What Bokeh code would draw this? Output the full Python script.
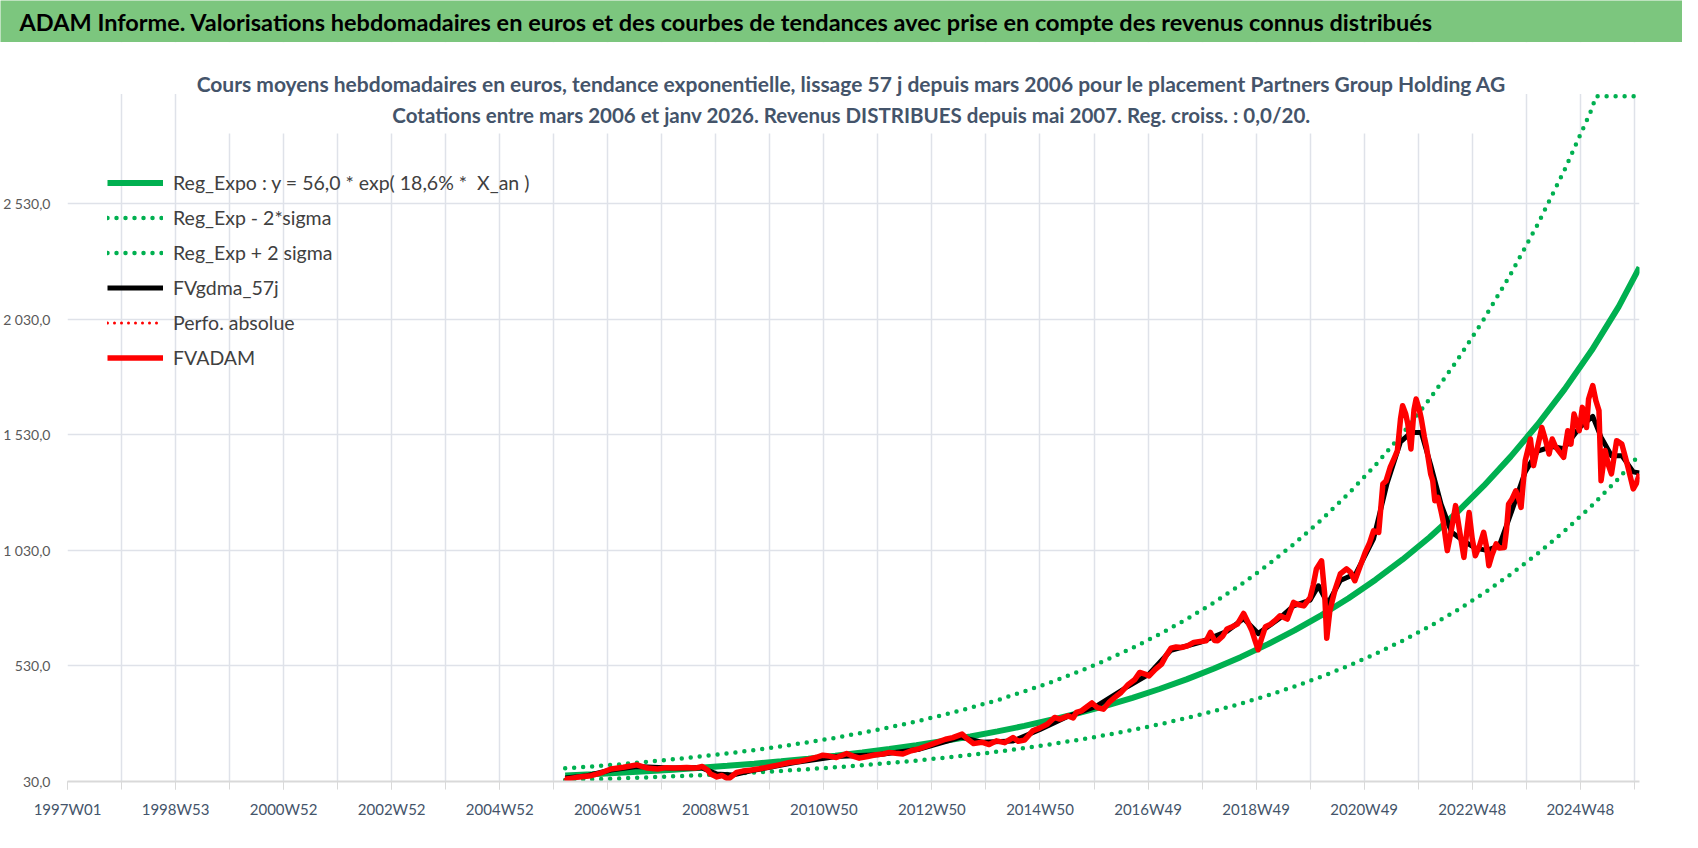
from bokeh.plotting import figure
from bokeh.layouts import column
from bokeh.models import (ColumnDataSource, FixedTicker, Label, BoxAnnotation,
                          Legend, LegendItem)
from bokeh.embed import file_html
from bokeh.resources import INLINE

# ---------------- data (week index 0 = 1997W01, consecutive ISO weeks) -------------
x_tick_pos = [0, 104, 208, 312, 416, 520, 624, 728, 832, 936, 1040, 1144, 1248, 1352, 1456]
x_tick_labels = ["1997W01", "1998W53", "2000W52", "2002W52", "2004W52", "2006W51",
                 "2008W51", "2010W50", "2012W50", "2014W50", "2016W49", "2018W49",
                 "2020W49", "2022W48", "2024W48"]
year_grid_pos = [0, 52, 104, 156, 208, 260, 312, 364, 416, 468, 520, 572, 624, 676, 728,
                 780, 832, 884, 936, 988, 1040, 1092, 1144, 1196, 1248, 1300, 1352,
                 1404, 1456, 1508]
y_tick_pos = [30, 530, 1030, 1530, 2030, 2530]
y_tick_labels = ["30,0", "530,0", "1 030,0", "1 530,0", "2 030,0", "2 530,0"]

# FVADAM (weekly valuation)
fv_week = [479, 490, 504, 515, 523, 535, 548, 558, 568, 576, 584, 596, 604, 611, 616, 619,
           625, 630, 636, 644, 650, 657, 666, 676, 686, 695, 705, 714, 721, 727, 733, 740,
           750, 756, 762, 770, 778, 785, 791, 797, 804, 812, 820, 828, 836, 845, 852, 861,
           866, 872, 880, 887, 894, 902, 910, 915, 921, 929, 936, 943, 950, 955, 963, 968,
           971, 976, 986, 991, 997, 1003, 1008, 1014, 1021, 1027, 1032, 1037, 1041, 1047,
           1053, 1058, 1062, 1067, 1072, 1078, 1084, 1090, 1096, 1100, 1104, 1107, 1112,
           1116, 1121, 1126, 1132, 1136, 1140, 1143, 1146, 1149, 1153, 1158, 1163, 1167,
           1174, 1180,
           1185, 1190, 1196, 1199, 1202, 1207, 1210, 1212, 1215, 1220, 1225, 1231, 1235,
           1239, 1244, 1249, 1253, 1257, 1262, 1266, 1269, 1273, 1277, 1280, 1283, 1285,
           1288, 1290, 1293, 1296, 1298, 1301, 1303, 1306, 1308, 1312, 1314, 1316, 1319,
           1322, 1324, 1328, 1332, 1336, 1340, 1344, 1347, 1349, 1352, 1355, 1359, 1363,
           1366, 1368, 1371, 1375, 1378, 1383, 1385, 1387, 1390, 1394, 1397, 1399, 1403,
           1408, 1411, 1415, 1419, 1423, 1426, 1429, 1432, 1435, 1440, 1444, 1447, 1450,
           1455, 1458, 1462, 1464, 1468, 1471, 1474, 1476, 1480, 1483, 1486, 1491, 1496,
           1499, 1502, 1507, 1510, 1513]
fv_value = [40, 48, 55, 70, 84, 92, 102, 88, 84, 90, 88, 91, 88, 95, 80, 62,
            50, 56, 40, 69, 75, 79, 85, 94, 103, 112, 118, 127, 135, 144, 140, 134,
            151, 140, 131, 138, 146, 149, 156, 152, 149, 163, 172, 185, 198, 213, 220, 235,
            215, 194, 200, 190, 206, 198, 220, 204, 209, 249, 262, 278, 307, 300, 314, 305,
            329, 336, 370, 350, 343, 375, 394, 415, 450, 470, 502, 495, 487, 515,
            538, 580, 607, 612, 610, 617, 632, 636, 639, 675, 640, 639, 660,
            690, 700, 711, 757, 720, 682, 640, 600, 645, 700, 711, 730, 747,
            733, 805,
            795, 790, 826, 880, 950, 985, 841, 650, 770, 860, 928, 950, 935,
            899, 960, 1021, 1060, 1115, 1108, 1317, 1330, 1389, 1430, 1462, 1600, 1656,
            1620, 1577, 1469, 1640, 1685, 1640, 1599, 1520, 1476, 1361, 1332, 1245, 1259,
            1200, 1158, 1029, 1120, 1224, 1110, 1000, 1120, 1194, 1080, 1007, 1050, 1108,
            1040, 964, 1010, 1058, 1040, 1043, 1120, 1231, 1250, 1288, 1250, 1216, 1418,
            1512, 1397, 1480, 1562, 1500, 1447, 1512, 1480, 1462, 1433, 1548, 1490, 1620,
            1548, 1649, 1562, 1685, 1743, 1678, 1635, 1332, 1462, 1400, 1361, 1505, 1490,
            1440, 1389, 1296, 1320, 1361]

# FVgdma_57j (smoothed curve)
gdma_week = [479, 500, 523, 548, 580, 610, 625, 640, 660, 700, 740, 780, 820, 860, 880,
             910, 936, 963, 990, 1020, 1041, 1062, 1090, 1116, 1132, 1146, 1167, 1180,
             1196, 1204, 1213, 1225, 1240, 1257, 1270, 1283, 1293, 1303, 1312, 1322, 1332,
             1344, 1355, 1366, 1378, 1390, 1403, 1415, 1429, 1440, 1455, 1468, 1476, 1486,
             1496, 1507, 1513]
gdma_value = [45, 55, 80, 95, 88, 90, 62, 58, 78, 112, 138, 146, 170, 222, 200,
              205, 255, 312, 355, 440, 495, 598, 632, 680, 735, 670, 738, 790,
              815, 877, 800, 900, 930, 1080, 1320, 1500, 1540, 1540, 1400, 1230, 1110,
              1070, 1040, 1030, 1050, 1200, 1370, 1460, 1480, 1470, 1560, 1610, 1520, 1440,
              1440, 1370, 1365]

# Reg_Expo trend and +/- 2 sigma bands (read every half year)
reg_week = [479, 505, 531, 557, 583, 609, 635, 661, 687, 713, 739, 765, 791, 817, 843,
            869, 895, 921, 947, 973, 999, 1025, 1051, 1077, 1103, 1129, 1155, 1181, 1207,
            1233, 1259, 1285, 1311, 1337, 1363, 1389, 1415, 1441, 1467, 1493, 1513]
reg_value = [56, 61.4, 67.4, 73.9, 81.1, 89.0, 97.7, 107.2, 117.5, 128.9, 141.5, 155.2,
             170.3, 186.8, 205.0, 224.9, 246.7, 270.7, 297.0, 325.8, 357.5, 392.2, 430.2,
             472.0, 517.9, 568.2, 623.4, 683.9, 750.4, 823.2, 903.2, 990.9, 1087, 1193,
             1309, 1436, 1575, 1728, 1896, 2085, 2255]
reg_low = [36, 39.6, 43.5, 47.7, 52.3, 57.4, 63.0, 69.2, 75.8, 83.2, 91.3, 100.1, 109.9,
           120.5, 132.3, 145.1, 159.2, 174.6, 191.6, 210.2, 230.6, 253.0, 277.5, 304.5,
           334.1, 366.6, 402.2, 441.2, 484.1, 531.1, 582.7, 639.3, 701.3, 769.7, 844.5,
           926.5, 1016, 1115, 1223, 1342, 1445]
high_week = [479, 505, 531, 557, 583, 609, 635, 661, 687, 713, 739, 765, 791, 817, 843,
             869, 895, 921, 947, 973, 999, 1025, 1051, 1077, 1103, 1129, 1155, 1181, 1207,
             1233, 1259, 1285, 1311, 1337, 1363, 1389, 1415, 1441, 1467, 1471, 1493, 1513]
reg_high = [87, 95, 104, 115, 126, 138, 151, 166, 182, 200, 219, 241, 264, 290, 318, 349,
            382, 420, 460, 505, 554, 608, 667, 732, 803, 881, 966, 1060, 1163, 1276, 1400,
            1536, 1685, 1849, 2029, 2226, 2441, 2678, 2939, 2995, 2995, 2995]

# ---------------- styling ----------------
FONT = "Lato"
GREEN = "#00B050"
BANNER_GREEN = "#7cc67e"

# ---------------- banner ----------------
banner = figure(width=1682, height=42, x_range=(0, 1), y_range=(0, 1),
                output_backend="svg", toolbar_location=None, min_border=0,
                x_axis_location=None, y_axis_location=None)
banner.frame_align = False
banner.grid.visible = False
banner.outline_line_color = None
banner.background_fill_color = BANNER_GREEN
banner.border_fill_color = BANNER_GREEN
banner.add_layout(Label(x=19, y=21, x_units="screen", y_units="screen",
                        text="ADAM Informe. Valorisations hebdomadaires en euros et des courbes de tendances avec prise en compte des revenus connus distribués",
                        text_font=FONT, text_font_size="23.5px", text_font_style="bold",
                        text_color="black", text_align="left", text_baseline="middle"))

# ---------------- main chart ----------------
p = figure(width=1682, height=798, x_range=(0, 1513), y_range=(30, 3228),
           output_backend="svg", toolbar_location=None,
           min_border_left=59, min_border_right=43, min_border_top=0, min_border_bottom=59)
p.frame_align = False
p.outline_line_color = None
p.background_fill_color = "white"
p.border_fill_color = "white"

xa = p.xaxis[0]
xa.ticker = FixedTicker(ticks=x_tick_pos, minor_ticks=year_grid_pos)
xa.major_label_overrides = {t: l for t, l in zip(x_tick_pos, x_tick_labels)}
xa.axis_line_color = "#d9d9d9"
xa.axis_line_width = 2
xa.major_tick_line_color = "#d9d9d9"
xa.minor_tick_line_color = "#d9d9d9"
xa.major_tick_out = 8
xa.major_tick_in = 0
xa.minor_tick_out = 8
xa.minor_tick_in = 0
xa.major_label_standoff = 10
xa.major_label_text_font = FONT
xa.major_label_text_font_size = "15px"
xa.major_label_text_color = "#44546a"

ya = p.yaxis[0]
ya.ticker = FixedTicker(ticks=y_tick_pos)
ya.major_label_overrides = {t: l for t, l in zip(y_tick_pos, y_tick_labels)}
ya.axis_line_color = None
ya.major_tick_line_color = None
ya.minor_tick_line_color = None
ya.major_label_standoff = 11
ya.major_label_text_font = FONT
ya.major_label_text_font_size = "14px"
ya.major_label_text_color = "#595959"

p.xgrid.ticker = FixedTicker(ticks=year_grid_pos)
p.ygrid.ticker = FixedTicker(ticks=y_tick_pos)
for g in (p.xgrid[0], p.ygrid[0]):
    g.grid_line_color = "#dfe2e9"
    g.grid_line_width = 1.5

src_fv = ColumnDataSource(dict(x=fv_week, y=fv_value))
src_gd = ColumnDataSource(dict(x=gdma_week, y=gdma_value))
src_reg = ColumnDataSource(dict(x=reg_week, y=reg_value, lo=reg_low))
src_hi = ColumnDataSource(dict(x=high_week, y=reg_high))

r_lo = p.line("x", "lo", source=src_reg, line_color=GREEN, line_width=4.5,
              line_dash="0 9", line_cap="round")
r_hi = p.line("x", "y", source=src_hi, line_color=GREEN, line_width=4.5,
              line_dash="0 9", line_cap="round")
r_reg = p.line("x", "y", source=src_reg, line_color=GREEN, line_width=6)
r_gd = p.line("x", "y", source=src_gd, line_color="black", line_width=5, line_join="round")
# Perfo. absolue coincides with FVADAM and is hidden beneath it
r_perf = p.line("x", "y", source=src_fv, line_color="#ff0000", line_width=3,
                line_dash="0 7", line_cap="round")
r_fv = p.line("x", "y", source=src_fv, line_color="#ff0000", line_width=5.5,
              line_join="round")

# white areas above the plot area and behind the subtitles
p.add_layout(BoxAnnotation(bottom=3005, fill_color="white", fill_alpha=1, line_color=None))
p.add_layout(BoxAnnotation(left=110, right=1395, bottom=2834, fill_color="white",
                           fill_alpha=1, line_color=None))

legend = Legend(items=[
    LegendItem(label="Reg_Expo : y = 56,0 * exp( 18,6% *  X_an )", renderers=[r_reg]),
    LegendItem(label="Reg_Exp - 2*sigma", renderers=[r_lo]),
    LegendItem(label="Reg_Exp + 2 sigma", renderers=[r_hi]),
    LegendItem(label="FVgdma_57j", renderers=[r_gd]),
    LegendItem(label="Perfo. absolue", renderers=[r_perf]),
    LegendItem(label="FVADAM", renderers=[r_fv]),
], location=(40, 406))
legend.glyph_width = 56
legend.glyph_height = 35
legend.label_height = 35
legend.spacing = 0
legend.padding = 0
legend.margin = 0
legend.label_standoff = 10
legend.background_fill_alpha = 0
legend.border_line_alpha = 0
legend.label_text_font = FONT
legend.label_text_font_size = "19.5px"
legend.label_text_color = "#404040"
p.add_layout(legend)

p.add_layout(Label(x=784, y=698, x_units="screen", y_units="screen",
                   text="Cours moyens hebdomadaires en euros, tendance exponentielle, lissage 57 j depuis mars 2006 pour le placement Partners Group Holding AG",
                   text_font=FONT, text_font_size="21px", text_font_style="bold",
                   text_color="#44546a", text_align="center", text_baseline="middle"))
p.add_layout(Label(x=784, y=667, x_units="screen", y_units="screen",
                   text="Cotations entre mars 2006 et janv 2026. Revenus DISTRIBUES depuis mai 2007. Reg. croiss. : 0,0/20.",
                   text_font=FONT, text_font_size="20.5px", text_font_style="bold",
                   text_color="#44546a", text_align="center", text_baseline="middle"))

layout = column(banner, p, spacing=0)
open("out.html", "w").write(file_html(layout, INLINE))
